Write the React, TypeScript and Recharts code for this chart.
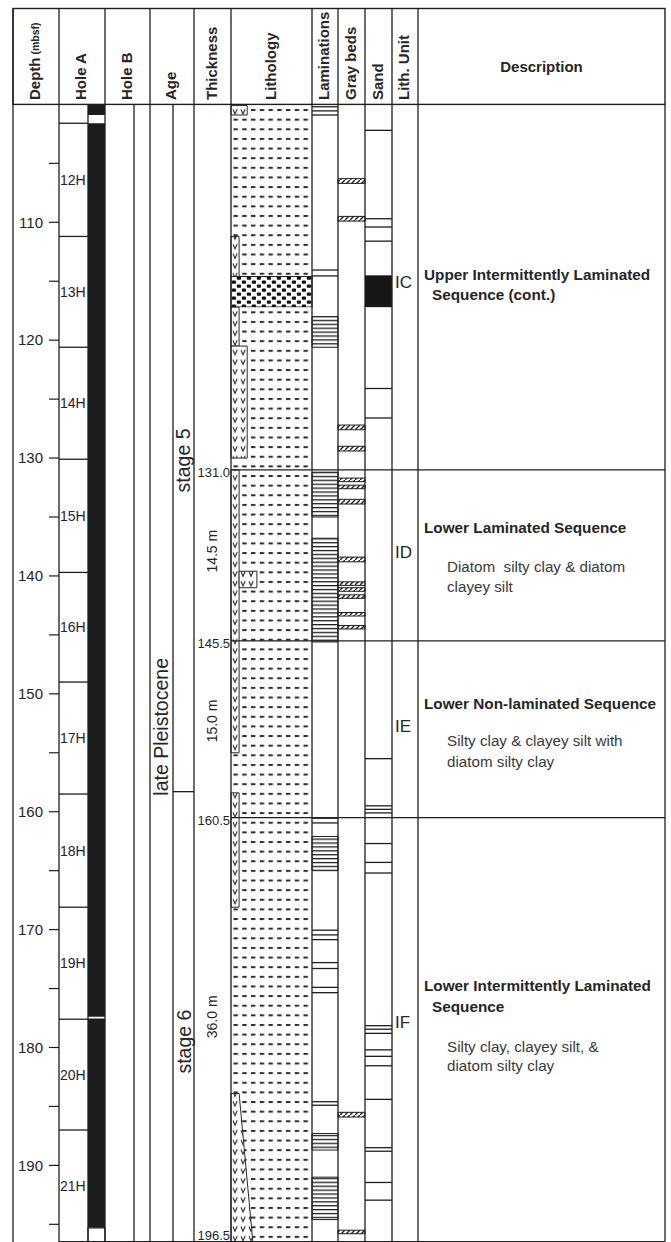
import React from 'react'
import { ComposedChart, ReferenceArea, ReferenceLine, Scatter, XAxis, YAxis } from 'recharts'

const FONT = '"Liberation Sans", Arial, Helvetica, sans-serif'
const INK = '#1e1e1e'
const TEXT = '#262626'
const BODY = '#3a3a3a'

const W = 671
const H = 1242
const PLOT_TOP = 104.4

// column borders (px) – the x axis runs in page pixels
const COL = {
  frame: 13,
  depth: 59,
  core: 88,
  holeA: 105,
  holeBmid: 134,
  holeB: 150,
  epoch: 173,
  age: 194,
  thick: 231,
  litho: 312,
  lam: 338,
  gray: 365,
  sand: 392,
  unit: 418,
  right: 665,
}
const LITHO_W = COL.litho - COL.thick

// ---- data (depths in mbsf) ----
const depthDomain = [100, 196.5]
const depthTicks = [105, 110, 115, 120, 125, 130, 135, 140, 145, 150, 155, 160, 165, 170, 175, 180, 185, 190, 195]

const cores = [
  { name: '12H', top: 101.6, bottom: 111.2 },
  { name: '13H', top: 111.2, bottom: 120.6 },
  { name: '14H', top: 120.6, bottom: 130.1 },
  { name: '15H', top: 130.1, bottom: 139.7 },
  { name: '16H', top: 139.7, bottom: 149.0 },
  { name: '17H', top: 149.0, bottom: 158.5 },
  { name: '18H', top: 158.5, bottom: 168.1 },
  { name: '19H', top: 168.1, bottom: 177.6 },
  { name: '20H', top: 177.6, bottom: 187.0 },
  { name: '21H', top: 187.0, bottom: 196.5 },
]
const recovered = [
  { top: 100.0, bottom: 100.9 },
  { top: 101.6, bottom: 177.4 },
  { top: 177.55, bottom: 195.3 },
]
const notRecovered = [{ top: 195.3, bottom: 196.5 }]

const stageBoundary = 158.3
const ageLabels = [
  { text: 'late Pleistocene', depth: 152.8, col: 'epoch' },
  { text: 'stage 5', depth: 130.2, col: 'stage' },
  { text: 'stage 6', depth: 179.5, col: 'stage' },
]

const unitBoundaries = [131.0, 145.5, 160.5]
const boundaryLabels = [
  { text: '131.0', depth: 131.25 },
  { text: '145.5', depth: 145.75 },
  { text: '160.5', depth: 160.75 },
  { text: '196.5', depth: 195.95 },
]
const thicknessLabels = [
  { text: '14.5 m', depth: 137.9 },
  { text: '15.0 m', depth: 152.3 },
  { text: '36.0 m', depth: 177.4 },
]

const lithology = [
  { type: 'silt', top: 100.0, bottom: 114.6 },
  { type: 'gravel', top: 114.6, bottom: 117.2 },
  { type: 'silt', top: 117.2, bottom: 196.5 },
]
// diatom-rich beds, as share of the lithology column
const diatomBeds = [
  { top: 100.1, bottom: 100.9, from: 0, to: 0.2 },
  { top: 111.2, bottom: 114.6, from: 0, to: 0.1 },
  { top: 117.2, bottom: 120.5, from: 0, to: 0.1 },
  { top: 120.5, bottom: 130.0, from: 0, to: 0.2 },
  { top: 131.0, bottom: 155.0, from: 0, to: 0.1 },
  { top: 139.6, bottom: 141.0, from: 0.1, to: 0.32 },
  { top: 158.4, bottom: 168.1, from: 0, to: 0.1 },
  { top: 183.9, bottom: 196.5, from: 0, to: 0.1, toBase: 0.27 },
]

const laminaBands = [
  { top: 118.0, bottom: 120.6 },
  { top: 131.2, bottom: 135.0 },
  { top: 136.8, bottom: 145.6 },
  { top: 162.1, bottom: 165.0 },
  { top: 187.3, bottom: 188.7 },
  { top: 191.0, bottom: 194.6 },
]
const laminaLines = [100.2, 100.55, 100.9, 114.05, 114.55, 160.55, 160.95, 170.05, 170.45, 170.85, 172.8, 173.3, 174.9, 175.35, 184.6, 184.9]

const grayBeds = [
  { top: 106.3, bottom: 106.7 },
  { top: 109.5, bottom: 109.9 },
  { top: 127.2, bottom: 127.6 },
  { top: 129.0, bottom: 129.4 },
  { top: 131.7, bottom: 132.0 },
  { top: 132.3, bottom: 132.6 },
  { top: 133.5, bottom: 133.9 },
  { top: 138.4, bottom: 138.8 },
  { top: 140.5, bottom: 140.8 },
  { top: 141.0, bottom: 141.3 },
  { top: 141.6, bottom: 141.9 },
  { top: 143.1, bottom: 143.4 },
  { top: 144.2, bottom: 144.5 },
  { top: 185.5, bottom: 185.9 },
  { top: 195.5, bottom: 195.8 },
]

const sandLayers = [102.2, 109.7, 110.4, 111.6, 124.1, 126.6, 155.5, 159.5, 159.8, 160.1, 162.7, 164.3, 165.2, 178.15, 178.45, 178.8, 180.2, 180.75, 181.55, 184.4, 188.5, 188.8, 191.45, 192.95]
const sandBeds = [{ top: 114.5, bottom: 117.2 }]

const units = [
  { name: 'IC', top: 100.0, bottom: 131.0, labelDepth: 115.1 },
  { name: 'ID', top: 131.0, bottom: 145.5, labelDepth: 138.0 },
  { name: 'IE', top: 145.5, bottom: 160.5, labelDepth: 152.8 },
  { name: 'IF', top: 160.5, bottom: 196.5, labelDepth: 177.9 },
]

const descriptionLines = [
  { text: 'Upper Intermittently Laminated', depth: 114.45, kind: 'title' },
  { text: 'Sequence (cont.)', depth: 116.15, kind: 'titleCont' },
  { text: 'Lower Laminated Sequence', depth: 135.9, kind: 'title' },
  { text: 'Diatom  silty clay & diatom', depth: 139.2, kind: 'body' },
  { text: 'clayey silt', depth: 140.9, kind: 'body' },
  { text: 'Lower Non-laminated Sequence', depth: 150.85, kind: 'title' },
  { text: 'Silty clay & clayey silt with', depth: 154.0, kind: 'body' },
  { text: 'diatom silty clay', depth: 155.75, kind: 'body' },
  { text: 'Lower Intermittently Laminated', depth: 174.7, kind: 'title' },
  { text: 'Sequence', depth: 176.5, kind: 'titleCont' },
  { text: 'Silty clay, clayey silt, &', depth: 179.9, kind: 'body' },
  { text: 'diatom silty clay', depth: 181.5, kind: 'body' },
]

const headers = [
  { text: 'Depth', sub: '(mbsf)', from: COL.frame, to: COL.depth },
  { text: 'Hole A', from: COL.depth, to: COL.holeA },
  { text: 'Hole B', from: COL.holeA, to: COL.holeB },
  { text: 'Age', from: COL.holeB, to: COL.age },
  { text: 'Thickness', from: COL.age, to: COL.thick },
  { text: 'Lithology', from: COL.thick, to: COL.litho },
  { text: 'Laminations', from: COL.litho, to: COL.lam },
  { text: 'Gray beds', from: COL.lam, to: COL.gray },
  { text: 'Sand', from: COL.gray, to: COL.sand },
  { text: 'Lith. Unit', from: COL.sand, to: COL.unit },
]

// ---- text marks drawn through Scatter ----
const coreLabelPts = cores.map((c) => ({ x: COL.depth + 1, y: (c.top + c.bottom) / 2, text: c.name }))
const boundaryLabelPts = boundaryLabels.map((b) => ({ x: COL.thick - 1, y: b.depth, text: b.text }))
const thicknessPts = thicknessLabels.map((t) => ({ x: (COL.age + COL.thick) / 2, y: t.depth, text: t.text }))
const agePts = ageLabels.map((a) => ({
  x: a.col === 'epoch' ? (COL.holeB + COL.epoch) / 2 : (COL.epoch + COL.age) / 2,
  y: a.depth,
  text: a.text,
}))
const unitPts = units.map((u) => ({ x: COL.sand + 3, y: u.labelDepth, text: u.name }))
const DESC_X: Record<string, number> = { title: 424, titleCont: 432, body: 447 }
const descPts = descriptionLines.map((d) => ({ x: DESC_X[d.kind], y: d.depth, text: d.text, kind: d.kind }))

type TextOpts = {
  size: number
  anchor?: 'start' | 'middle' | 'end'
  rotate?: boolean
  weight?: string
  fill?: string
}
const textShape = (o: TextOpts) => (p: any) => {
  const d = p.payload ?? p
  const bold = o.weight ?? (d.kind === 'title' || d.kind === 'titleCont' ? 'bold' : 'normal')
  const fill = o.fill ?? (d.kind === 'body' ? BODY : TEXT)
  return (
    <text
      x={p.cx}
      y={p.cy}
      transform={o.rotate ? `rotate(-90 ${p.cx} ${p.cy})` : undefined}
      textAnchor={o.anchor ?? 'start'}
      dominantBaseline="central"
      fontFamily={FONT}
      fontSize={o.size}
      fontWeight={bold}
      fill={fill}
      style={{ whiteSpace: 'pre' }}
    >
      {d.text}
    </text>
  )
}

const descSize = (kind: string) => (kind === 'body' ? 15.2 : 15.3)

const wedgeShape = (topShare: number, baseShare: number) => (p: any) => {
  const tw = (p.width * topShare) / baseShare
  const d = `M${p.x},${p.y} L${p.x + tw},${p.y} L${p.x + p.width},${p.y + p.height} L${p.x},${p.y + p.height} Z`
  return <path d={d} fill={p.fill} stroke={p.stroke} strokeWidth={p.strokeWidth} />
}

function PatternDefs() {
  return (
    <svg width={0} height={0} style={{ position: 'absolute' }}>
      <defs>
        <pattern id="silt" patternUnits="userSpaceOnUse" x={233.5} y={3.1} width={8.75} height={9.631}>
          <rect width={8.75} height={9.631} fill="#fff" />
          <rect x={0} y={0} width={4.4} height={2} fill="#2e2e2e" />
        </pattern>
        <pattern id="gravel" patternUnits="userSpaceOnUse" x={231} y={0} width={10} height={8}>
          <rect width={10} height={8} fill="#fff" />
          <rect x={0.8} y={0.6} width={4.2} height={3.2} rx={0.8} fill="#111" />
          <rect x={5.8} y={4.6} width={4.2} height={3.2} rx={0.8} fill="#111" />
        </pattern>
        <pattern id="diatom" patternUnits="userSpaceOnUse" x={231} y={1} width={8} height={9.631}>
          <rect width={8} height={9.631} fill="#fff" />
          <path d="M2 2.5 L4 7 L6.2 2.2" stroke="#2a2a2a" strokeWidth={1.1} fill="none" />
        </pattern>
        <pattern id="lam" patternUnits="userSpaceOnUse" x={0} y={0} width={10} height={3.9}>
          <rect width={10} height={3.9} fill="#fff" />
          <rect x={0} y={0} width={10} height={1.3} fill={INK} />
        </pattern>
        <pattern id="hatch" patternUnits="userSpaceOnUse" x={0} y={0} width={5} height={5}>
          <rect width={5} height={5} fill="#fff" />
          <path d="M-1 6 L6 -1" stroke="#222" strokeWidth={1.4} />
        </pattern>
      </defs>
    </svg>
  )
}

function HeaderOverlay() {
  const top = 8.5
  const bottom = PLOT_TOP
  const borders = [COL.depth, COL.holeA, COL.holeB, COL.age, COL.thick, COL.litho, COL.lam, COL.gray, COL.sand, COL.unit]
  return (
    <svg width={W} height={H} style={{ position: 'absolute', left: 0, top: 0, pointerEvents: 'none' }}>
      <rect x={COL.frame} y={top} width={COL.right - COL.frame} height={bottom - top} fill="none" stroke={INK} strokeWidth={1.4} />
      <line x1={COL.frame} y1={top} x2={COL.frame} y2={H} stroke={INK} strokeWidth={1.3} />
      {borders.map((x) => (
        <line key={x} x1={x} y1={top} x2={x} y2={bottom} stroke={INK} strokeWidth={1.3} />
      ))}
      {headers.map((h) => {
        const cx = (h.from + h.to) / 2 - 1.5
        return (
          <text
            key={h.text}
            x={cx}
            y={100}
            transform={`rotate(-90 ${cx} 100)`}
            dominantBaseline="central"
            fontFamily={FONT}
            fontWeight="bold"
            fontSize={15}
            fill={TEXT}
          >
            {h.text}
            {h.sub ? <tspan fontSize={10.5}>{' ' + h.sub}</tspan> : null}
          </text>
        )
      })}
      <text
        x={(COL.unit + COL.right) / 2}
        y={66}
        textAnchor="middle"
        dominantBaseline="central"
        fontFamily={FONT}
        fontWeight="bold"
        fontSize={15}
        fill={TEXT}
      >
        Description
      </text>
    </svg>
  )
}

const seg = (a: number, b: number, d: number) => [
  { x: a, y: d },
  { x: b, y: d },
]

export default function App() {
  const bodyBorders = [COL.core, COL.holeA, COL.holeBmid, COL.holeB, COL.epoch, COL.age, COL.thick, COL.litho, COL.lam, COL.gray, COL.sand, COL.unit, COL.right]
  return (
    <div style={{ position: 'absolute', left: 0, top: 0, width: W, height: H, background: '#fff' }}>
      <PatternDefs />
      <ComposedChart
        width={W}
        height={H}
        margin={{ top: PLOT_TOP, right: W - COL.right, bottom: 0, left: COL.frame }}
      >
        <XAxis type="number" dataKey="x" domain={[COL.depth, COL.right]} hide allowDataOverflow />
        <YAxis
          type="number"
          dataKey="y"
          domain={depthDomain}
          reversed
          allowDataOverflow
          ticks={depthTicks}
          interval={0}
          width={COL.depth - COL.frame}
          tickSize={10}
          tickMargin={6}
          tickFormatter={(v: number) => (v % 10 === 0 ? String(v) : '')}
          tick={{ fontSize: 15, fill: TEXT, fontFamily: FONT }}
          axisLine={{ stroke: INK, strokeWidth: 1.3 }}
          tickLine={{ stroke: INK, strokeWidth: 1.2 }}
        />

        {/* lithology */}
        {lithology.map((l, i) => (
          <ReferenceArea
            key={`lith-${i}`}
            x1={COL.thick}
            x2={COL.litho}
            y1={l.top}
            y2={l.bottom}
            fill={l.type === 'gravel' ? 'url(#gravel)' : 'url(#silt)'}
            fillOpacity={1}
            stroke={l.type === 'gravel' ? INK : 'none'}
            strokeWidth={1.2}
          />
        ))}
        {diatomBeds.map((b, i) => (
          <ReferenceArea
            key={`dia-${i}`}
            x1={COL.thick + b.from * LITHO_W}
            x2={COL.thick + (b.toBase ?? b.to) * LITHO_W}
            y1={b.top}
            y2={b.bottom}
            fill="url(#diatom)"
            fillOpacity={1}
            stroke="#2a2a2a"
            strokeWidth={1}
            shape={b.toBase ? wedgeShape(b.to, b.toBase) : undefined}
          />
        ))}

        {/* laminations */}
        {laminaBands.map((b, i) => (
          <ReferenceArea
            key={`lamb-${i}`}
            x1={COL.litho}
            x2={COL.lam}
            y1={b.top}
            y2={b.bottom}
            fill="url(#lam)"
            fillOpacity={1}
            stroke={INK}
            strokeWidth={1}
          />
        ))}
        {laminaLines.map((d) => (
          <ReferenceLine key={`laml-${d}`} segment={seg(COL.litho, COL.lam, d)} stroke={INK} strokeWidth={1.3} />
        ))}

        {/* gray beds */}
        {grayBeds.map((g, i) => (
          <ReferenceArea
            key={`gray-${i}`}
            x1={COL.lam}
            x2={COL.gray}
            y1={g.top}
            y2={g.bottom}
            fill="url(#hatch)"
            fillOpacity={1}
            stroke={INK}
            strokeWidth={1}
          />
        ))}

        {/* sand */}
        {sandBeds.map((s, i) => (
          <ReferenceArea key={`sandb-${i}`} x1={COL.gray} x2={COL.sand} y1={s.top} y2={s.bottom} fill="#161616" fillOpacity={1} />
        ))}
        {sandLayers.map((d) => (
          <ReferenceLine key={`sand-${d}`} segment={seg(COL.gray, COL.sand, d)} stroke={INK} strokeWidth={1.3} />
        ))}

        {/* hole A recovery */}
        {recovered.map((r, i) => (
          <ReferenceArea key={`rec-${i}`} x1={COL.core} x2={COL.holeA} y1={r.top} y2={r.bottom} fill="#1c1c1c" fillOpacity={1} />
        ))}
        {notRecovered.map((r, i) => (
          <ReferenceArea
            key={`nrec-${i}`}
            x1={COL.core}
            x2={COL.holeA}
            y1={r.top}
            y2={r.bottom}
            fill="#fff"
            fillOpacity={1}
            stroke={INK}
            strokeWidth={1.2}
          />
        ))}
        {cores.map((c) => (
          <ReferenceLine key={`core-${c.name}`} segment={seg(COL.depth, COL.core, c.top)} stroke={INK} strokeWidth={1.3} />
        ))}

        {/* column borders and unit boundaries */}
        {bodyBorders.map((x) => (
          <ReferenceLine key={`col-${x}`} x={x} stroke={INK} strokeWidth={1.3} />
        ))}
        <ReferenceLine segment={seg(COL.epoch, COL.age, stageBoundary)} stroke={INK} strokeWidth={1.3} />
        {unitBoundaries.map((d) => (
          <ReferenceLine key={`unit-${d}`} segment={seg(COL.thick, COL.right, d)} stroke={INK} strokeWidth={1.3} />
        ))}
        <ReferenceLine segment={seg(COL.depth, COL.right, depthDomain[1])} stroke={INK} strokeWidth={2} />

        {/* text */}
        <Scatter data={coreLabelPts} isAnimationActive={false} shape={textShape({ size: 14 })} />
        <Scatter data={boundaryLabelPts} isAnimationActive={false} shape={textShape({ size: 13, anchor: 'end' })} />
        <Scatter data={thicknessPts} isAnimationActive={false} shape={textShape({ size: 14, anchor: 'middle', rotate: true })} />
        <Scatter data={agePts} isAnimationActive={false} shape={textShape({ size: 19.5, anchor: 'middle', rotate: true })} />
        <Scatter data={unitPts} isAnimationActive={false} shape={textShape({ size: 17 })} />
        {['title', 'titleCont', 'body'].map((k) => (
          <Scatter
            key={`desc-${k}`}
            data={descPts.filter((d) => d.kind === k)}
            isAnimationActive={false}
            shape={textShape({ size: descSize(k) })}
          />
        ))}
      </ComposedChart>
      <HeaderOverlay />
    </div>
  )
}
